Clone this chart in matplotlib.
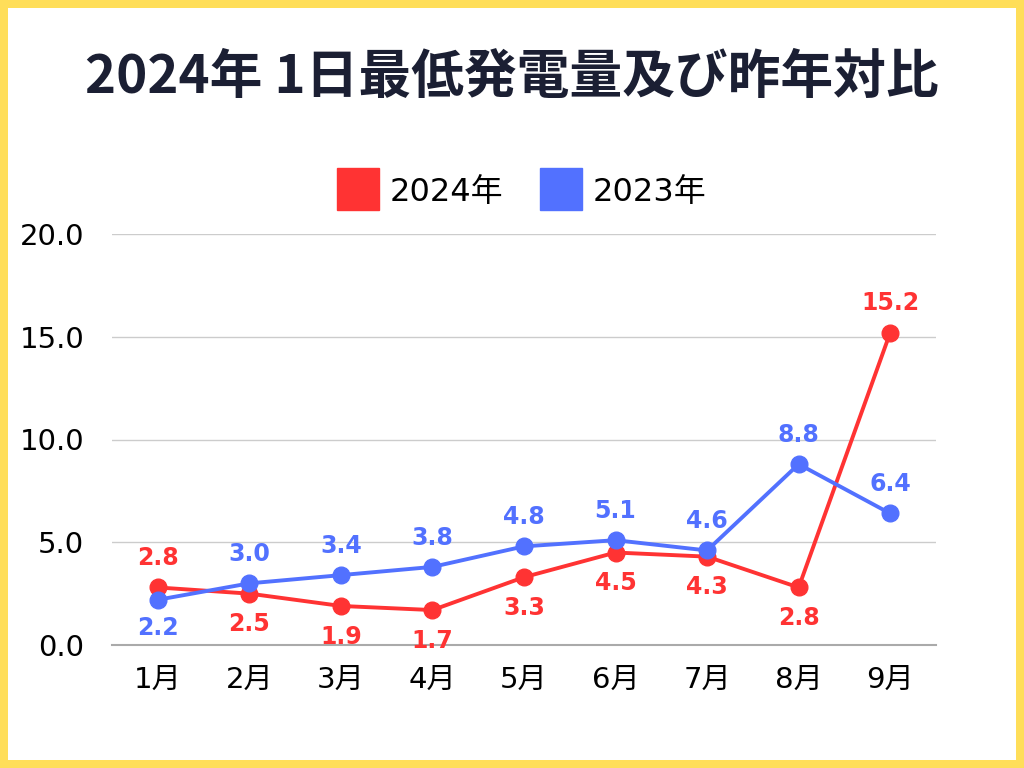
import matplotlib
matplotlib.use("Agg")
import matplotlib.pyplot as plt
from matplotlib.patches import Rectangle
from matplotlib.lines import Line2D

plt.rcParams['font.family'] = ['Noto Sans CJK JP', 'DejaVu Sans']

months = ["1月", "2月", "3月", "4月", "5月", "6月", "7月", "8月", "9月"]
vals_2024 = [2.8, 2.5, 1.9, 1.7, 3.3, 4.5, 4.3, 2.8, 15.2]
vals_2023 = [2.2, 3.0, 3.4, 3.8, 4.8, 5.1, 4.6, 8.8, 6.4]
yticks = [0.0, 5.0, 10.0, 15.0, 20.0]
title = "2024年 1日最低発電量及び昨年対比"
series_names = ["2024年", "2023年"]

RED = "#FF3333"
BLUE = "#5271FF"
YELLOW = "#FFDE59"
NAVY = "#1B1F33"
NUMFONT = ['DejaVu Sans', 'Noto Sans CJK JP']

fig = plt.figure(figsize=(10.24, 7.68), dpi=100)
fig.patch.set_facecolor(YELLOW)
fig.add_artist(Rectangle((8/1024, 8/768), 1 - 16/1024, 1 - 16/768,
                         transform=fig.transFigure, facecolor="white",
                         edgecolor="none", zorder=0))

ax = fig.add_axes([112/1024, 1 - 645/768, (936 - 112)/1024, (645 - 234)/768])
ax.set_facecolor("none")

x = list(range(len(months)))
last = len(x) - 1
ax.plot(x, vals_2024, color=RED, lw=2.8, marker="o", ms=12, zorder=3, clip_on=False)
ax.plot(x, vals_2023, color=BLUE, lw=2.8, marker="o", ms=12, zorder=4, clip_on=False)

for i in x:
    r, b = vals_2024[i], vals_2023[i]
    r_above = r >= b or i == last
    b_above = b >= r or i == last
    ax.annotate(f"{r:.1f}", (i, r), xytext=(0, 21 if r_above else -22),
                textcoords="offset points", ha="center", va="center",
                color=RED, fontsize=17, fontweight="bold", family=NUMFONT, zorder=5)
    ax.annotate(f"{b:.1f}", (i, b), xytext=(0, 21 if b_above else -20),
                textcoords="offset points", ha="center", va="center",
                color=BLUE, fontsize=17, fontweight="bold", family=NUMFONT, zorder=5)

ax.set_xlim(-0.5, len(months) - 0.5)
ax.set_ylim(0, 20)
ax.set_yticks(yticks)
ax.set_yticklabels([f"{v:.1f}" for v in yticks], family=NUMFONT)
ax.set_xticks(x)
ax.set_xticklabels(months, family=NUMFONT)
ax.tick_params(axis="both", length=0, labelsize=21, colors="black")
ax.tick_params(axis="y", pad=20)
ax.tick_params(axis="x", pad=15)
ax.grid(axis="y", color="#CCCCCC", lw=1)
ax.set_axisbelow(True)
for s in ["top", "right", "left"]:
    ax.spines[s].set_visible(False)
ax.spines["bottom"].set_color("#AAAAAA")
ax.spines["bottom"].set_linewidth(1.5)

fig.text(0.5, 1 - 78/768, title, ha="center", va="center",
         fontsize=38, fontweight="bold", color=NAVY)

handles = [Line2D([], [], marker="s", ls="none", color=RED, ms=30),
           Line2D([], [], marker="s", ls="none", color=BLUE, ms=30)]
fig.legend(handles, series_names, loc="center", bbox_to_anchor=(0.509, 1 - 192/768),
           ncol=2, frameon=False, handletextpad=0.3,
           columnspacing=1.1, handlelength=1.4,
           prop={'family': NUMFONT, 'size': 23})

fig.savefig("out.png", dpi=100, facecolor=fig.get_facecolor())
